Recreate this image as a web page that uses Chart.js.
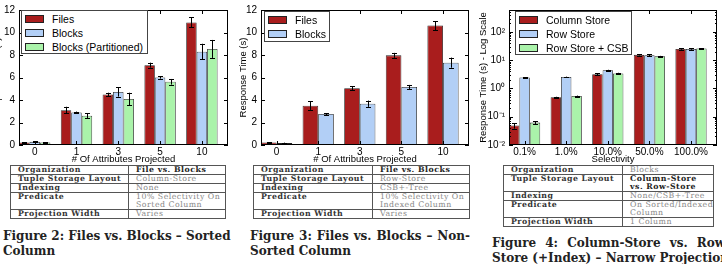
<!DOCTYPE html>
<html>
<head>
<meta charset="utf-8">
<script src="https://cdn.jsdelivr.net/npm/chart.js@4.4.0/dist/chart.umd.min.js"></script>
<style>
  html, body { margin: 0; padding: 0; background: #fff; }
  body { width: 722px; height: 264px; position: relative; overflow: hidden; }
  canvas { position: absolute; top: 0; }
  .legend { position: absolute; background: #fff; border: 1px solid #444; box-sizing: border-box;
            font-family: "Liberation Sans", Arial, sans-serif; font-size: 10.5px; color: #000; }
  .legend .item { position: absolute; left: 3px; height: 14px; line-height: 14px; white-space: nowrap; }
  .legend .sw { display: inline-block; width: 19px; height: 8px; border: 1px solid #222; box-sizing: border-box;
                vertical-align: middle; margin-right: 8px; position: relative; top: -1px; }
  table.spec { position: absolute; top: 165px; border-collapse: collapse; table-layout: fixed;
               font-family: "DejaVu Serif", serif; font-size: 7.8px; letter-spacing: 0.5px; }
  table.spec td { border: 1px solid #555; padding: 0 0 0 7px; line-height: 8px; height: 8px; vertical-align: top;
                  color: #888; white-space: nowrap; overflow: hidden; }
  table.spec td.k { color: #333; font-weight: bold; }
  table.spec td.b { color: #222; font-weight: bold; }
  .cap { position: absolute; font-family: "DejaVu Serif", serif; font-weight: bold; font-size: 12px;
         line-height: 14.5px; color: #222; }
  .cap div { white-space: nowrap; }
  .cap .j { text-align: justify; text-align-last: justify; }
</style>
</head>
<body>
<canvas id="fig2" width="244" height="165" style="left:-8px"></canvas>
<canvas id="fig3" width="240" height="165" style="left:238px"></canvas>
<canvas id="fig4" width="244" height="165" style="left:478px"></canvas>

<div class="legend" id="leg2" style="left:21px; top:10px; width:127px; height:44px"></div>
<div class="legend" id="leg3" style="left:264px; top:11px; width:66px; height:31px"></div>
<div class="legend" id="leg4" style="left:515px; top:11px; width:117px; height:44px"></div>

<table class="spec" style="left:10px; width:216px">
  <colgroup><col style="width:118px"><col></colgroup>
  <tr><td class="k">Organization</td><td class="b">File vs. Blocks</td></tr>
  <tr><td class="k">Tuple Storage Layout</td><td>Column-Store</td></tr>
  <tr><td class="k">Indexing</td><td>None</td></tr>
  <tr><td class="k">Predicate</td><td>10% Selectivity On<br>Sorted Column</td></tr>
  <tr><td class="k">Projection Width</td><td>Varies</td></tr>
</table>
<table class="spec" style="left:253px; width:217px">
  <colgroup><col style="width:119px"><col></colgroup>
  <tr><td class="k">Organization</td><td class="b">File vs. Blocks</td></tr>
  <tr><td class="k">Tuple Storage Layout</td><td>Row-Store</td></tr>
  <tr><td class="k">Indexing</td><td>CSB+-Tree</td></tr>
  <tr><td class="k">Predicate</td><td>10% Selectivity On<br>Indexed Column</td></tr>
  <tr><td class="k">Projection Width</td><td>Varies</td></tr>
</table>
<table class="spec" style="left:503px; width:211px">
  <colgroup><col style="width:119px"><col></colgroup>
  <tr><td class="k">Organization</td><td>Blocks</td></tr>
  <tr><td class="k">Tuple Storage Layout</td><td class="b">Column-Store<br>vs. Row-Store</td></tr>
  <tr><td class="k">Indexing</td><td>None/CSB+-Tree</td></tr>
  <tr><td class="k">Predicate</td><td>On Sorted/Indexed<br>Column</td></tr>
  <tr><td class="k">Projection Width</td><td>1 Column</td></tr>
</table>

<div class="cap" style="left:3px; top:229px; width:227px">
  <div class="j">Figure 2: Files vs. Blocks – Sorted</div>
  <div>Column</div>
</div>
<div class="cap" style="left:250px; top:229px; width:220px">
  <div class="j">Figure 3: Files vs. Blocks – Non-</div>
  <div>Sorted Column</div>
</div>
<div class="cap" style="left:492px; top:236px; width:238px">
  <div class="j">Figure 4: Column-Store vs. Row-</div>
  <div>Store (+Index) – Narrow Projection</div>
</div>

<script>
// data
var attrLabels = ['0', '1', '3', '5', '10'];
var selLabels = ['0.1%', '1.0%', '10.0%', '50.0%', '100.0%'];
var yTicksLinear = [0, 2, 4, 6, 8, 10, 12];
var yTicksLog = [0.01, 0.1, 1, 10, 100];

// Figure 2 - sorted column
var filesSorted = [0.23, 3.1, 4.5, 7.1, 10.9];
var filesSortedErr = [0.03, 0.3, 0.15, 0.22, 0.45];
var blocksSorted = [0.28, 2.9, 4.72, 6.0, 8.3];
var blocksSortedErr = [0.04, 0.07, 0.42, 0.1, 0.7];
var partSorted = [0.23, 2.6, 4.1, 5.62, 8.54];
var partSortedErr = [0.03, 0.2, 0.55, 0.25, 0.8];

// Figure 3 - non-sorted column
var filesNonSorted = [0.22, 3.5, 5.05, 7.97, 10.62];
var filesNonSortedErr = [0.02, 0.38, 0.18, 0.22, 0.4];
var blocksNonSorted = [0.17, 2.75, 3.67, 5.16, 7.32];
var blocksNonSortedErr = [0.04, 0.08, 0.28, 0.18, 0.45];

// Figure 4 - column store vs row store (log scale)
var colStore = [0.049, 0.49, 3.2, 15.5, 25];
var colStoreErr = [0.011, 0.02, 0.2, 0.8, 1.5];
var rowStore = [2.45, 2.55, 4.4, 15, 25];
var rowStoreErr = [0.05, 0.08, 0.2, 1.0, 1.5];
var rowCsb = [0.062, 0.54, 3.4, 13.8, 26];
var rowCsbErr = [0.008, 0.02, 0.2, 0.5, 1.0];

var RED = '#a91d1d', BLUE = '#b2cff6', GREEN = '#aaf3aa';

var tickFont = { family: '"Liberation Sans", Arial, sans-serif', size: 10 };
var titleFont = { family: '"Liberation Sans", Arial, sans-serif', size: 9.5 };

// error bars drawn through the y scale
var errorBars = {
    id: 'errorBars',
    afterDatasetsDraw: function (chart) {
        var ctx = chart.ctx, y = chart.scales.y;
        ctx.save();
        ctx.strokeStyle = '#000';
        ctx.lineWidth = 1;
        chart.data.datasets.forEach(function (ds, i) {
            chart.getDatasetMeta(i).data.forEach(function (bar, j) {
                var v = ds.data[j].y, e = ds.errors[j];
                var top = y.getPixelForValue(v + e), bot = y.getPixelForValue(Math.max(v - e, y.min));
                var cx = Math.round(bar.x) + 0.5;
                ctx.beginPath();
                ctx.moveTo(cx, top); ctx.lineTo(cx, bot);
                ctx.moveTo(cx - 2.5, Math.round(top) + 0.5); ctx.lineTo(cx + 2.5, Math.round(top) + 0.5);
                ctx.moveTo(cx - 2.5, Math.round(bot) + 0.5); ctx.lineTo(cx + 2.5, Math.round(bot) + 0.5);
                ctx.stroke();
            });
        });
        ctx.restore();
    }
};

// box around the plot with inward ticks, matplotlib style
var frame = {
    id: 'frame',
    afterDraw: function (chart) {
        var ctx = chart.ctx, a = chart.chartArea, x = chart.scales.x, y = chart.scales.y;
        ctx.save();
        ctx.strokeStyle = '#000';
        ctx.lineWidth = 1;
        ctx.strokeRect(Math.round(a.left) + 0.5, Math.round(a.top) + 0.5,
            Math.round(a.width) - 1, Math.round(a.height) - 1);
        ctx.beginPath();
        x.ticks.forEach(function (t) {
            var px = Math.round(x.getPixelForValue(t.value)) + 0.5;
            ctx.moveTo(px, a.bottom); ctx.lineTo(px, a.bottom - 4);
            ctx.moveTo(px, a.top); ctx.lineTo(px, a.top + 4);
        });
        y.ticks.forEach(function (t) {
            var py = Math.round(y.getPixelForValue(t.value)) + 0.5;
            ctx.moveTo(a.left, py); ctx.lineTo(a.left + 4, py);
            ctx.moveTo(a.right, py); ctx.lineTo(a.right - 4, py);
        });
        if (y.type === 'logarithmic') {
            yTicksLog.forEach(function (d) {
                for (var k = 2; k <= 9; k++) {
                    var v = d * k;
                    if (v > y.max) return;
                    var py = Math.round(y.getPixelForValue(v)) + 0.5;
                    ctx.moveTo(a.left, py); ctx.lineTo(a.left + 2, py);
                    ctx.moveTo(a.right, py); ctx.lineTo(a.right - 2, py);
                }
            });
        }
        ctx.stroke();
        ctx.restore();
    }
};

function points(arr) {
    return arr.map(function (v, i) { return { x: i, y: v }; });
}

function bars(label, arr, err, color) {
    return {
        label: label,
        data: points(arr),
        errors: err,
        backgroundColor: color,
        borderColor: '#222',
        borderWidth: 0.8,
        categoryPercentage: 0.75,
        barPercentage: 1.0
    };
}

var sup = { '-': '⁻', '0': '⁰', '1': '¹', '2': '²', '3': '³' };

function makeChart(id, labels, datasets, opts) {
    var logY = opts.log;
    var yAxis = {
        type: logY ? 'logarithmic' : 'linear',
        min: logY ? 0.01 : 0,
        max: logY ? 600 : 12,
        grid: { display: false, drawTicks: false },
        border: { display: false },
        afterBuildTicks: function (s) {
            s.ticks = (logY ? yTicksLog : yTicksLinear).map(function (v) { return { value: v }; });
        },
        afterFit: function (s) { s.width = opts.yWidth; },
        ticks: {
            font: tickFont, color: '#000', padding: 4,
            callback: function (v) {
                if (!logY) return String(v);
                var p = String(Math.round(Math.log10(v)));
                return '10' + p.split('').map(function (c) { return sup[c]; }).join('');
            }
        },
        title: { display: true, text: opts.yTitle, font: titleFont, color: '#000', padding: 0 }
    };
    var xAxis = {
        type: 'linear',
        min: -0.375,
        max: 4.625,
        offset: false,
        grid: { display: false, drawTicks: false, offset: false },
        border: { display: false },
        afterBuildTicks: function (s) {
            s.ticks = labels.map(function (l, i) { return { value: i }; });
        },
        afterFit: function (s) { s.height = 20; },
        ticks: {
            font: tickFont, color: '#000', padding: 1, autoSkip: false, maxRotation: 0,
            callback: function (v) { return labels[v]; }
        },
        title: { display: true, text: opts.xTitle, font: titleFont, color: '#000', padding: 0 }
    };
    return new Chart(document.getElementById(id).getContext('2d'), {
        type: 'bar',
        data: { datasets: datasets },
        options: {
            responsive: false,
            animation: false,
            events: [],
            layout: { padding: { left: 0, right: opts.padRight, top: opts.padTop, bottom: 0 } },
            plugins: { legend: { display: false }, tooltip: { enabled: false } },
            scales: { x: xAxis, y: yAxis }
        },
        plugins: [errorBars, frame]
    });
}

function htmlLegend(id, datasets) {
    var box = document.getElementById(id);
    datasets.forEach(function (ds, i) {
        var item = document.createElement('div');
        item.className = 'item';
        item.style.top = (1 + 14 * i) + 'px';
        var sw = document.createElement('span');
        sw.className = 'sw';
        sw.style.background = ds.backgroundColor;
        item.appendChild(sw);
        item.appendChild(document.createTextNode(ds.label));
        box.appendChild(item);
    });
}

document.addEventListener('DOMContentLoaded', function () {
    var ds2 = [
        bars('Files', filesSorted, filesSortedErr, RED),
        bars('Blocks', blocksSorted, blocksSortedErr, BLUE),
        bars('Blocks (Partitioned)', partSorted, partSortedErr, GREEN)
    ];
    makeChart('fig2', attrLabels, ds2, {
        yTitle: 'Response Time (s)', xTitle: '# Of Attributes Projected',
        yWidth: 27, padRight: 8, padTop: 6
    });
    htmlLegend('leg2', ds2);

    var ds3 = [
        bars('Files', filesNonSorted, filesNonSortedErr, RED),
        bars('Blocks', blocksNonSorted, blocksNonSortedErr, BLUE)
    ];
    makeChart('fig3', attrLabels, ds3, {
        yTitle: 'Response Time (s)', xTitle: '# Of Attributes Projected',
        yWidth: 23, padRight: 9, padTop: 6
    });
    htmlLegend('leg3', ds3);

    var ds4 = [
        bars('Column Store', colStore, colStoreErr, RED),
        bars('Row Store', rowStore, rowStoreErr, BLUE),
        bars('Row Store + CSB', rowCsb, rowCsbErr, GREEN)
    ];
    makeChart('fig4', selLabels, ds4, {
        log: true, yTitle: 'Response Time (s) - Log Scale', xTitle: 'Selectivity',
        yWidth: 31, padRight: 5, padTop: 5
    });
    htmlLegend('leg4', ds4);
});
</script>
</body>
</html>
